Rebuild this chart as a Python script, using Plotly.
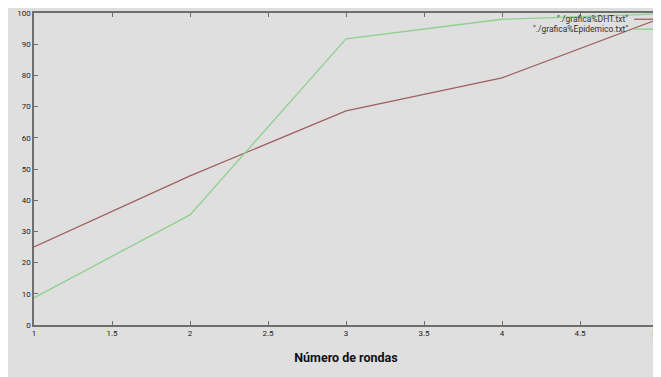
import plotly.graph_objects as go

rondas = [1, 2, 3, 4, 5]
dht = [25, 47.8, 68.6, 79.2, 98]
epidemico = [8.7, 35.3, 91.7, 98, 99.7]
x_ticks = [1, 1.5, 2, 2.5, 3, 3.5, 4, 4.5, 5]
y_ticks = [0, 10, 20, 30, 40, 50, 60, 70, 80, 90, 100]
legend_names = ['"./grafica%DHT.txt"', '"./grafica%Epidemico.txt"']
colors = ["#a0605e", "#8fd08f"]

bg = "#dfdfdf"
narrow = "Liberation Sans Narrow, Roboto, sans-serif"
fig = go.Figure()
fig.add_trace(go.Scatter(x=rondas, y=dht, mode="lines", name=legend_names[0],
                         line=dict(color=colors[0], width=1.3), showlegend=False))
fig.add_trace(go.Scatter(x=rondas, y=epidemico, mode="lines", name=legend_names[1],
                         line=dict(color=colors[1], width=1.3), showlegend=False))

# gnuplot-style legend: text right-aligned, sample line at the right
for i, (name, col) in enumerate(zip(legend_names, colors)):
    yy = 0.98 - i * 0.032
    fig.add_annotation(x=0.955, y=yy, xref="paper", yref="paper", text=name,
                       showarrow=False, xanchor="right", yanchor="middle",
                       font=dict(size=8.5, color="#333333", family=narrow))
    fig.add_shape(type="line", xref="paper", yref="paper", x0=0.962, x1=0.995, y0=yy, y1=yy,
                  line=dict(color=col, width=1.3))

tick_font = dict(size=8, color="#222222", family=narrow)
# last x tick label sits at the right page edge, as in the reference
fig.add_annotation(x=1, y=0, xref="paper", yref="paper", text=str(x_ticks[-1]),
                   showarrow=False, xanchor="right", yanchor="top", xshift=1, yshift=-3,
                   font=tick_font)

axis_common = dict(showline=True, linecolor="#6e6e6e", linewidth=1.5, mirror="ticks",
                   ticks="inside", ticklen=4, tickcolor="#6e6e6e", showgrid=False, zeroline=False,
                   automargin=False, tickfont=tick_font)

fig.update_layout(
    width=653, height=369,
    margin=dict(l=26, r=3, t=5, b=52),
    paper_bgcolor=bg, plot_bgcolor=bg,
    xaxis=dict(range=[1, 5], tickvals=x_ticks[:-1], ticktext=[str(v) for v in x_ticks[:-1]],
               title=dict(text="<b>Número de rondas</b>", standoff=16,
                          font=dict(size=12.5, color="#111111", family=narrow)),
               **axis_common),
    yaxis=dict(range=[0, 100], tickvals=y_ticks, **axis_common),
)

fig.write_html("out.html")
